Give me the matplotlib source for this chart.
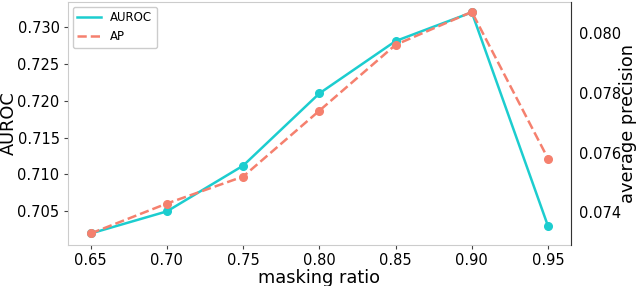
import matplotlib
matplotlib.use("Agg")
import matplotlib.pyplot as plt
from matplotlib.lines import Line2D

masking_ratio = [0.65, 0.70, 0.75, 0.80, 0.85, 0.90, 0.95]
auroc = [0.7020, 0.7050, 0.7112, 0.7210, 0.7281, 0.7320, 0.7030]
ap = [0.0733, 0.0743, 0.0752, 0.0774, 0.0796, 0.0807, 0.0758]
auroc_ticks = [0.705, 0.710, 0.715, 0.720, 0.725, 0.730]
ap_ticks = [0.074, 0.076, 0.078, 0.080]

cyan = "#1CCDCF"
salmon = "#F5806E"

fig, ax = plt.subplots(figsize=(6.4, 2.86), dpi=100)
fig.subplots_adjust(left=0.106, right=0.892, top=0.993, bottom=0.145)

ax.plot(masking_ratio, auroc, color=cyan, lw=1.8, marker="o", ms=5.5)
ax2 = ax.twinx()
ax2.plot(masking_ratio, ap, color=salmon, lw=1.8, ls="--", marker="o", ms=5.5)

ax.set_ylim(0.7005, 0.7334)
ax2.set_ylim(0.07293, 0.08103)
ax.set_yticks(auroc_ticks)
ax2.set_yticks(ap_ticks)
ax.set_xticks(masking_ratio)
ax.set_xticklabels([f"{v:.2f}" for v in masking_ratio])
ax.set_yticklabels([f"{v:.3f}" for v in auroc_ticks])
ax2.set_yticklabels([f"{v:.3f}" for v in ap_ticks])

ax.set_xlabel("masking ratio", fontsize=12.8, labelpad=1)
ax.set_ylabel("AUROC", fontsize=12.8, va="center")
ax2.set_ylabel("average precision", fontsize=12.8, va="center")
ax.yaxis.set_label_coords(-0.118, 0.5)
ax2.yaxis.set_label_coords(1.114, 0.5)

ax.tick_params(labelsize=10.5, length=3, pad=3, color="#444444")
ax2.tick_params(labelsize=10.5, length=0, pad=6)

for s in ["left", "bottom", "top", "right"]:
    ax.spines[s].set_color("#cccccc")
for s in ["left", "bottom", "top"]:
    ax2.spines[s].set_visible(False)
ax2.spines["right"].set_color("#333333")

handles = [Line2D([], [], color=cyan, lw=1.8),
           Line2D([], [], color=salmon, lw=1.8, ls="--")]
ax.legend(handles=handles, labels=["AUROC", "AP"], loc="upper left", fontsize=8.5,
          framealpha=1, edgecolor="#cccccc", borderaxespad=0.4)

fig.savefig("out.png", dpi=100)
